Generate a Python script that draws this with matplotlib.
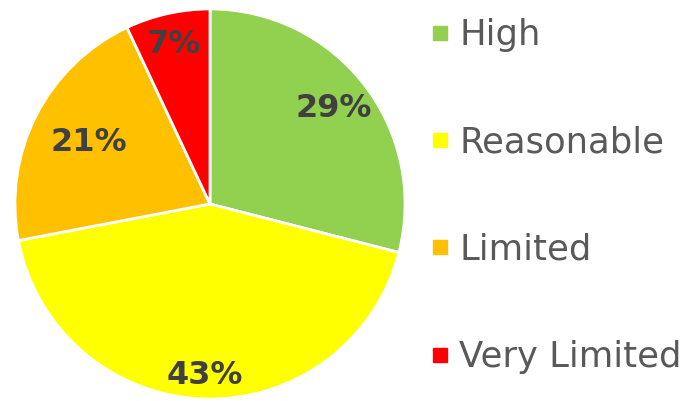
import numpy as np
import matplotlib.pyplot as plt
from matplotlib.lines import Line2D

categories = ["High", "Reasonable", "Limited", "Very Limited"]
shares = [29, 43, 21, 7]
colors = ["#92D050", "#FFFF00", "#FFC000", "#FF0000"]
label_dist = [0.80, 0.88, 0.70, 0.84]

fig = plt.figure(figsize=(6.84, 4.01), dpi=100)
ax = fig.add_axes([13 / 684, 0.0, 394 / 684, 394 / 401])

wedges, _ = ax.pie(shares, colors=colors, startangle=90, counterclock=False,
                   radius=1, wedgeprops=dict(edgecolor="white", linewidth=2))
for w, v, d in zip(wedges, shares, label_dist):
    ang = np.deg2rad((w.theta1 + w.theta2) / 2)
    ax.text(d * np.cos(ang), d * np.sin(ang), f"{v}%", ha="center", va="center",
            fontsize=23, fontweight="bold", color="#404040")
ax.set_xlim(-1.01, 1.01)
ax.set_ylim(-1.01, 1.01)
ax.set_aspect("equal")
ax.axis("off")

handles = [Line2D([], [], marker="s", linestyle="none", markersize=10,
                  markerfacecolor=c, markeredgecolor=c) for c in colors]
leg = fig.legend(handles, categories, loc="upper left",
                 bbox_to_anchor=(416.7 / 684, 1 - 4 / 401),
                 frameon=False, fontsize=25.5, labelspacing=2.07, handlelength=0.5,
                 handletextpad=0.3, borderaxespad=0)
for t in leg.get_texts():
    t.set_color("#595959")

fig.savefig("out.png", dpi=100)
